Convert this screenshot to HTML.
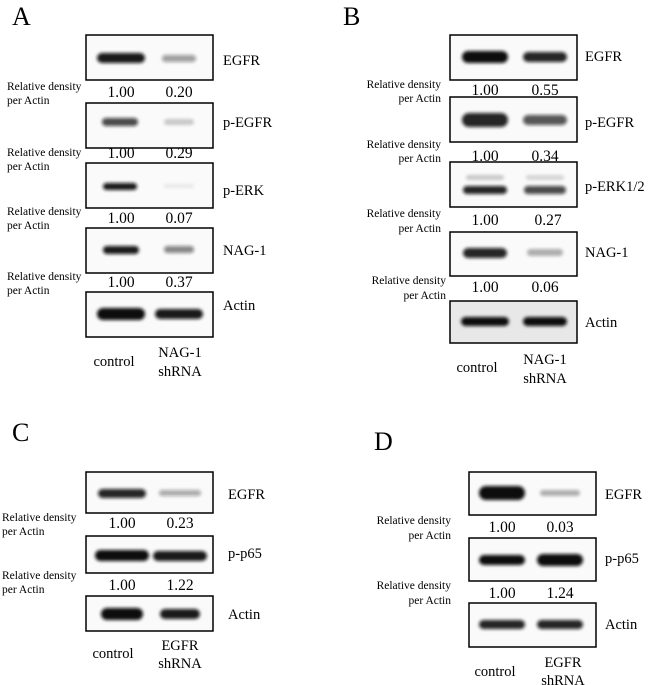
<!DOCTYPE html>
<html><head><meta charset="utf-8"><style>
html,body{margin:0;padding:0;background:#fff;}
svg{display:block;font-family:"Liberation Serif",serif;}
.r{font-size:11.5px;}
.v{font-size:15.5px;text-anchor:middle;}
.l{font-size:14.5px;}
.t{font-size:26px;}
</style></head><body>
<svg width="650" height="685" viewBox="0 0 650 685" xmlns="http://www.w3.org/2000/svg">
<defs>
<filter id="b" x="-30%" y="-150%" width="160%" height="400%"><feGaussianBlur stdDeviation="1.5"/></filter>
</defs>
<g fill="#fafafa" stroke="#000" stroke-width="1.5">
<rect x="86" y="35" width="127" height="45"/><rect x="86" y="103" width="127" height="45"/><rect x="86" y="163" width="127" height="45"/><rect x="86" y="228" width="127" height="45"/><rect x="86" y="292" width="127" height="45"/>
<rect x="450" y="35" width="127" height="45"/><rect x="450" y="97" width="127" height="45"/><rect x="450" y="162" width="127" height="45"/><rect x="450" y="232" width="127" height="44"/><rect x="450" y="301" width="127" height="42" fill="#e8e8e8"/>
<rect x="86" y="472" width="127" height="41"/><rect x="86" y="536" width="127" height="37"/><rect x="86" y="596" width="127" height="35"/>
<rect x="469" y="472" width="127" height="43"/><rect x="469" y="538" width="127" height="43"/><rect x="469" y="603" width="127" height="44"/>
</g>
<g filter="url(#b)" fill="#111">
<rect x="97" y="53" width="48" height="10" rx="5" opacity=".95"/><rect x="162" y="55" width="34" height="7" rx="3.5" opacity=".4"/>
<rect x="102" y="118" width="36" height="8" rx="4" opacity=".75"/><rect x="164" y="119" width="30" height="6" rx="3" opacity=".2"/>
<rect x="103" y="183" width="34" height="7" rx="3.5" opacity=".95"/><rect x="164" y="184" width="30" height="4" rx="2" opacity=".07"/>
<rect x="103" y="246" width="36" height="8" rx="4" opacity=".95"/><rect x="164" y="246" width="30" height="7" rx="3.5" opacity=".5"/>
<rect x="97" y="308" width="48" height="12" rx="6"/><rect x="155" y="309" width="48" height="10" rx="5" opacity=".95"/>
<rect x="462" y="51" width="46" height="12" rx="6"/><rect x="523" y="52" width="44" height="10" rx="5" opacity=".9"/>
<rect x="462" y="113" width="46" height="14" rx="7" opacity=".9"/><rect x="523" y="115" width="44" height="10" rx="5" opacity=".7"/>
<rect x="466" y="175" width="38" height="5" rx="2.5" opacity=".2"/><rect x="526" y="175" width="38" height="5" rx="2.5" opacity=".15"/>
<rect x="463" y="186" width="44" height="8" rx="4" opacity=".9"/><rect x="524" y="186" width="42" height="8" rx="4" opacity=".75"/>
<rect x="463" y="248" width="44" height="10" rx="5" opacity=".9"/><rect x="527" y="249" width="36" height="7" rx="3.5" opacity=".3"/>
<rect x="461" y="317" width="48" height="9" rx="4.5"/><rect x="523" y="317" width="44" height="9" rx="4.5"/>
<rect x="98" y="489" width="48" height="9" rx="4.5" opacity=".9"/><rect x="159" y="490" width="42" height="6" rx="3" opacity=".35"/>
<rect x="95" y="550" width="54" height="11" rx="5.5"/><rect x="153" y="551" width="54" height="10" rx="5" opacity=".95"/>
<rect x="101" y="608" width="42" height="12" rx="6"/><rect x="160" y="609" width="40" height="10" rx="5" opacity=".95"/>
<rect x="479" y="486" width="46" height="14" rx="7"/><rect x="540" y="490" width="40" height="6" rx="3" opacity=".3"/>
<rect x="479" y="555" width="46" height="10" rx="5"/><rect x="537" y="554" width="46" height="12" rx="6"/>
<rect x="479" y="620" width="46" height="9" rx="4.5" opacity=".9"/><rect x="537" y="620" width="46" height="9" rx="4.5" opacity=".9"/>
</g>
<g class="t"><text x="12" y="25">A</text><text x="343" y="25">B</text><text x="12" y="441">C</text><text x="374" y="450">D</text></g>
<g class="l">
<text x="223" y="65">EGFR</text><text x="223" y="127">p-EGFR</text><text x="223" y="195">p-ERK</text><text x="223" y="255">NAG-1</text><text x="223" y="310">Actin</text>
<text x="585" y="61">EGFR</text><text x="585" y="127">p-EGFR</text><text x="585" y="191">p-ERK1/2</text><text x="585" y="257">NAG-1</text><text x="585" y="327">Actin</text>
<text x="228" y="499">EGFR</text><text x="228" y="558">p-p65</text><text x="228" y="619">Actin</text>
<text x="605" y="499">EGFR</text><text x="605" y="563">p-p65</text><text x="605" y="629">Actin</text>
</g>
<g class="v">
<text x="121" y="97">1.00</text><text x="179" y="97">0.20</text>
<text x="121" y="158">1.00</text><text x="179" y="158">0.29</text>
<text x="121" y="223">1.00</text><text x="179" y="223">0.07</text>
<text x="121" y="287">1.00</text><text x="179" y="287">0.37</text>
<text x="485" y="95">1.00</text><text x="545" y="95">0.55</text>
<text x="485" y="161">1.00</text><text x="545" y="161">0.34</text>
<text x="485" y="225">1.00</text><text x="548" y="225">0.27</text>
<text x="485" y="292">1.00</text><text x="545" y="292">0.06</text>
<text x="122" y="528">1.00</text><text x="180" y="528">0.23</text>
<text x="122" y="590">1.00</text><text x="180" y="590">1.22</text>
<text x="502" y="532">1.00</text><text x="560" y="532">0.03</text>
<text x="502" y="598">1.00</text><text x="560" y="598">1.24</text>
</g>
<g class="r">
<text x="7" y="90">Relative density</text><text x="7" y="104">per Actin</text>
<text x="7" y="156">Relative density</text><text x="7" y="170">per Actin</text>
<text x="7" y="215">Relative density</text><text x="7" y="229">per Actin</text>
<text x="7" y="280">Relative density</text><text x="7" y="294">per Actin</text>
<text x="2" y="521">Relative density</text><text x="2" y="535">per Actin</text>
<text x="2" y="579">Relative density</text><text x="2" y="593">per Actin</text>
</g>
<g class="r" text-anchor="end">
<text x="441" y="88">Relative density</text><text x="441" y="102">per Actin</text>
<text x="441" y="148">Relative density</text><text x="441" y="162">per Actin</text>
<text x="441" y="217">Relative density</text><text x="441" y="232">per Actin</text>
<text x="446" y="284">Relative density</text><text x="446" y="299">per Actin</text>
<text x="451" y="524">Relative density</text><text x="451" y="539">per Actin</text>
<text x="451" y="589">Relative density</text><text x="451" y="604">per Actin</text>
</g>
<g class="l" text-anchor="middle">
<text x="114" y="366">control</text><text x="180" y="357">NAG-1</text><text x="180" y="376">shRNA</text>
<text x="477" y="372">control</text><text x="545" y="364">NAG-1</text><text x="545" y="383">shRNA</text>
<text x="113" y="658">control</text><text x="180" y="650">EGFR</text><text x="180" y="668">shRNA</text>
<text x="495" y="676">control</text><text x="563" y="667">EGFR</text><text x="563" y="685">shRNA</text>
</g>
</svg>
</body></html>
